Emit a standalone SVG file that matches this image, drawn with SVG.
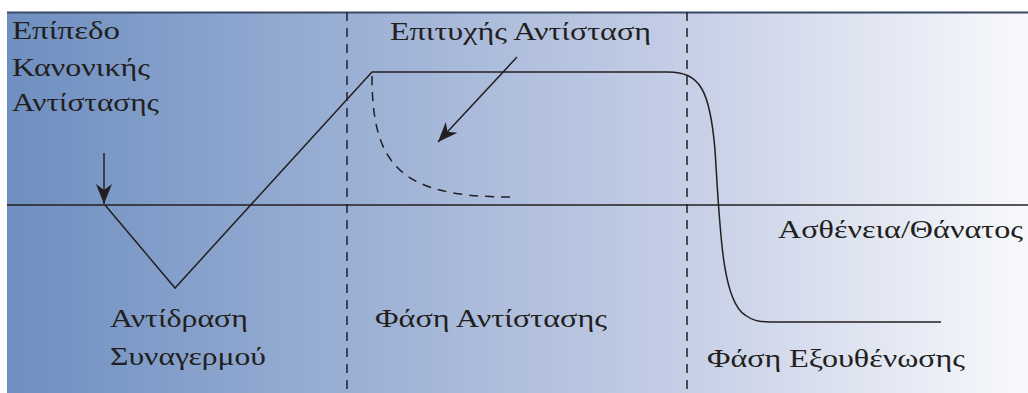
<svg xmlns="http://www.w3.org/2000/svg" width="1028" height="393" viewBox="0 0 1028 393">
<style>
text{font-family:"Liberation Serif","DejaVu Serif",serif;font-size:25px;fill:#231f20}
.ln{fill:none;stroke:#231f20;stroke-width:1.5}
.dash{fill:none;stroke:#231f20;stroke-width:1.5;stroke-dasharray:9,7}
</style>
<defs>
<linearGradient id="bg" x1="0" y1="0" x2="1" y2="0">
<stop offset="0" stop-color="#6e8fc0"/>
<stop offset="0.33" stop-color="#9aafd4"/>
<stop offset="0.67" stop-color="#c6cfe6"/>
<stop offset="1" stop-color="#f8f9fc"/>
</linearGradient>
<marker id="ah" viewBox="0 0 10 10" refX="10" refY="5" markerWidth="12" markerHeight="12" markerUnits="userSpaceOnUse" orient="auto">
<path d="M0,0 L10,5 L0,10 L3,5 Z" fill="#231f20"/>
</marker>
<marker id="ah2" viewBox="0 0 10 10" refX="10" refY="5" markerWidth="20" markerHeight="20" markerUnits="userSpaceOnUse" orient="auto">
<path d="M0,1 L10,5 L0,9 L3,5 Z" fill="#231f20"/>
</marker>
</defs>
<rect x="0" y="0" width="1028" height="393" fill="#ffffff"/>
<rect x="7" y="12" width="1021" height="381" fill="url(#bg)"/>
<line x1="7" y1="12.5" x2="1028" y2="12.5" stroke="#3a4a66" stroke-width="2"/>
<g id="axes">
<line class="ln" x1="7" y1="205" x2="1028" y2="205"/>
<line class="dash" x1="347" y1="12" x2="347" y2="393"/>
<line class="dash" x1="687" y1="12" x2="687" y2="393"/>
</g>
<g id="connectors">
<path class="ln" d="M105,205 L175,288 L372,72 L668,72 C700,72 710,90 715,150 C720,230 722,300 745,315 C752,320 758,322 770,322 L941,322"/>
<path class="dash" d="M372,76 C372,165 400,197 510,197"/>
<line class="ln" x1="104" y1="153" x2="104" y2="204" marker-end="url(#ah2)"/>
<line class="ln" x1="517" y1="57" x2="438" y2="142" marker-end="url(#ah2)"/>
</g>
<g id="label-normal">
<text x="12" y="39" textLength="108" lengthAdjust="spacingAndGlyphs">Επίπεδο</text>
<text x="12" y="76" textLength="138" lengthAdjust="spacingAndGlyphs">Κανονικής</text>
<text x="12" y="111" textLength="147" lengthAdjust="spacingAndGlyphs">Αντίστασης</text>
</g>
<g id="label-success"><text x="390" y="40" textLength="261" lengthAdjust="spacingAndGlyphs">Επιτυχής Αντίσταση</text></g>
<g id="label-illness"><text x="778" y="238" textLength="245" lengthAdjust="spacingAndGlyphs">Ασθένεια/Θάνατος</text></g>
<g id="label-alarm">
<text x="110" y="327" textLength="138" lengthAdjust="spacingAndGlyphs">Αντίδραση</text>
<text x="110" y="365" textLength="156" lengthAdjust="spacingAndGlyphs">Συναγερμού</text>
</g>
<g id="label-resistance"><text x="375" y="327" textLength="232" lengthAdjust="spacingAndGlyphs">Φάση Αντίστασης</text></g>
<g id="label-exhaustion"><text x="707" y="367" textLength="258" lengthAdjust="spacingAndGlyphs">Φάση Εξουθένωσης</text></g>
</svg>
